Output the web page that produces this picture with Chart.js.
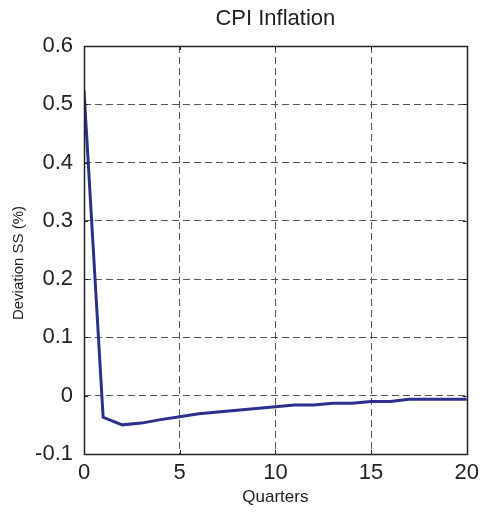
<!DOCTYPE html>
<html>
<head>
<meta charset="utf-8">
<script src="https://cdn.jsdelivr.net/npm/chart.js@4"></script>
<style>
  html, body { margin: 0; padding: 0; background: #fff; }
  #wrap { width: 485px; height: 514px; }
</style>
</head>
<body>
<div id="wrap"><canvas id="cpiChart" width="485" height="514"></canvas></div>
<script>
// Data
const quarters = [0, 1, 2, 3, 4, 5, 6, 7, 8, 9, 10, 11, 12, 13, 14, 15, 16, 17, 18, 19, 20];
const cpiDeviation = [0.524, -0.037, -0.050, -0.047, -0.041, -0.036, -0.031, -0.028, -0.025, -0.022,
                      -0.019, -0.016, -0.016, -0.013, -0.013, -0.010, -0.010, -0.006, -0.006, -0.006, -0.006];
const xTicks = [0, 5, 10, 15, 20];
const yTicks = [-0.1, 0, 0.1, 0.2, 0.3, 0.4, 0.5, 0.6];
const chartTitle = 'CPI Inflation';
const yTitle = 'Deviation SS (%)';

const FONT = "'Liberation Sans', Arial, sans-serif";

// Title over the plot area, y label, box round it, inward tick marks
const boxPlugin = {
    id: 'box',
    afterDraw(chart) {
        const { ctx, chartArea: a, scales } = chart;
        ctx.save();
        ctx.fillStyle = '#222';
        ctx.textAlign = 'center';
        ctx.textBaseline = 'middle';
        ctx.font = '22px ' + FONT;
        ctx.fillText(chartTitle, (a.left + a.right) / 2, 19);

        ctx.save();
        ctx.translate(19, 263);
        ctx.rotate(-Math.PI / 2);
        ctx.font = '15px ' + FONT;
        ctx.fillText(yTitle, 0, 0);
        ctx.restore();

        ctx.strokeStyle = '#222';
        ctx.lineWidth = 1;
        ctx.setLineDash([]);
        ctx.beginPath();
        xTicks.forEach(t => {
            const px = Math.round(scales.x.getPixelForValue(t)) + 0.5;
            ctx.moveTo(px, a.bottom); ctx.lineTo(px, a.bottom - 4);
            ctx.moveTo(px, a.top); ctx.lineTo(px, a.top + 4);
        });
        yTicks.forEach(t => {
            const py = Math.round(scales.y.getPixelForValue(t)) + 0.5;
            ctx.moveTo(a.left, py); ctx.lineTo(a.left + 4, py);
            ctx.moveTo(a.right, py); ctx.lineTo(a.right - 4, py);
        });
        ctx.stroke();
        ctx.lineWidth = 1.5;
        ctx.strokeRect(Math.round(a.left) + 0.5, Math.round(a.top) + 0.5,
                       Math.round(a.right - a.left), Math.round(a.bottom - a.top));
        ctx.restore();
    }
};

// no dashed grid line on the box edges
const innerGrid = c => (c.index === 0 || c.index === c.scale.ticks.length - 1) ? 'rgba(0,0,0,0)' : '#555';

const ctx = document.getElementById('cpiChart').getContext('2d');

const cpiChart = new Chart(ctx, {
    type: 'line',
    data: {
        datasets: [{
            data: quarters.map((q, i) => ({ x: q, y: cpiDeviation[i] })),
            borderColor: '#2b2f8e',
            borderWidth: 3,
            pointRadius: 0,
            tension: 0,
            fill: false
        }]
    },
    options: {
        responsive: false,
        animation: false,
        devicePixelRatio: 1,
        layout: { padding: { left: 0, right: 17, top: 46, bottom: 0 } },
        plugins: {
            legend: { display: false },
            tooltip: { enabled: false },
            title: { display: false }
        },
        scales: {
            x: {
                type: 'linear',
                min: 0,
                max: 20,
                afterFit: s => { s.height = 60; },
                afterBuildTicks: s => { s.ticks = xTicks.map(v => ({ value: v })); },
                ticks: {
                    color: '#222',
                    font: { family: FONT, size: 22 },
                    padding: 6,
                    maxRotation: 0
                },
                grid: { color: innerGrid, lineWidth: 1, drawTicks: false },
                border: { display: false, dash: [7, 4] },
                title: {
                    display: true,
                    text: 'Quarters',
                    color: '#222',
                    font: { family: FONT, size: 17 },
                    padding: { top: 0, bottom: 6 }
                }
            },
            y: {
                type: 'linear',
                min: -0.1,
                max: 0.6,
                afterFit: s => { s.width = 84; },
                afterBuildTicks: s => { s.ticks = yTicks.map(v => ({ value: v })); },
                ticks: {
                    color: '#222',
                    font: { family: FONT, size: 22 },
                    padding: 11,
                    callback: v => (Math.abs(v) < 1e-9 ? '0' : String(Math.round(v * 10) / 10))
                },
                grid: { color: innerGrid, lineWidth: 1, drawTicks: false },
                border: { display: false, dash: [7, 4] }
            }
        }
    },
    plugins: [boxPlugin]
});
</script>
</body>
</html>
